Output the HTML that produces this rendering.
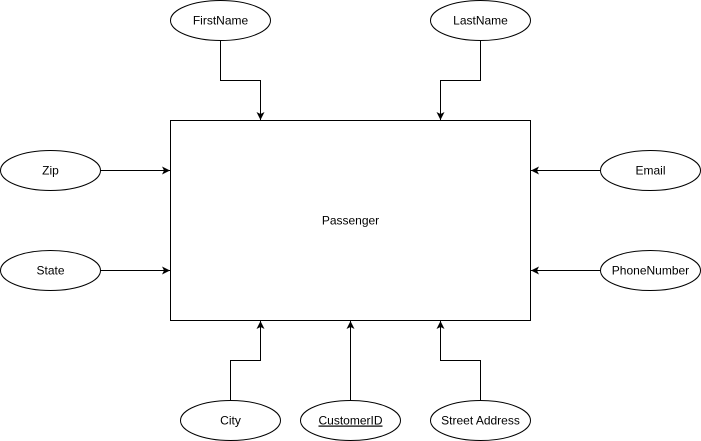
<!DOCTYPE html>
<html><head><meta charset="utf-8"><style>
html,body{margin:0;padding:0;background:#fff;}
svg{display:block;}
text{font-family:"Liberation Sans",Arial,sans-serif;font-size:12px;fill:#000;}
</style></head><body>
<svg width="701" height="441" viewBox="0 0 701 441" xmlns="http://www.w3.org/2000/svg">
<defs>
<marker id="a" markerWidth="10" markerHeight="10" refX="8" refY="4" orient="auto" markerUnits="userSpaceOnUse">
<path d="M0,0 L8,4 L0,8 L2,4 Z" fill="#000"/>
</marker>
</defs>
<g fill="none" stroke="#000" stroke-width="1">
<rect x="170.5" y="120.5" width="360" height="200" fill="#fff"/>
<path d="M220.5,40 V80.5 H260.5 V120" marker-end="url(#a)"/>
<path d="M480.5,40 V80.5 H440.5 V120" marker-end="url(#a)"/>
<path d="M100,170.5 H170" marker-end="url(#a)"/>
<path d="M100,270.5 H170" marker-end="url(#a)"/>
<path d="M600,170.5 H531" marker-end="url(#a)"/>
<path d="M600,270.5 H531" marker-end="url(#a)"/>
<path d="M230.5,400 V360.5 H260.5 V321" marker-end="url(#a)"/>
<path d="M350.5,400 V321" marker-end="url(#a)"/>
<path d="M480.5,400 V360.5 H440.5 V321" marker-end="url(#a)"/>
<ellipse cx="220.5" cy="20.5" rx="50" ry="20" fill="#fff"/>
<ellipse cx="480.5" cy="20.5" rx="50" ry="20" fill="#fff"/>
<ellipse cx="50.5" cy="170.5" rx="50" ry="20" fill="#fff"/>
<ellipse cx="50.5" cy="270.5" rx="50" ry="20" fill="#fff"/>
<ellipse cx="650.5" cy="170.5" rx="50" ry="20" fill="#fff"/>
<ellipse cx="650.5" cy="270.5" rx="50" ry="20" fill="#fff"/>
<ellipse cx="230.5" cy="420.5" rx="50" ry="20" fill="#fff"/>
<ellipse cx="350.5" cy="420.5" rx="50" ry="20" fill="#fff"/>
<ellipse cx="480.5" cy="420.5" rx="50" ry="20" fill="#fff"/>
</g>
<g text-anchor="middle">
<text x="350.5" y="224.5">Passenger</text>
<text x="220.5" y="24.5">FirstName</text>
<text x="480.5" y="24.5">LastName</text>
<text x="50.5" y="174.5">Zip</text>
<text x="50.5" y="274.5">State</text>
<text x="650.5" y="174.5">Email</text>
<text x="650.5" y="274.5">PhoneNumber</text>
<text x="230.5" y="424.5">City</text>
<text x="350.5" y="424.5" text-decoration="underline">CustomerID</text>
<text x="480.5" y="424.5">Street Address</text>
</g>
</svg>
</body></html>
